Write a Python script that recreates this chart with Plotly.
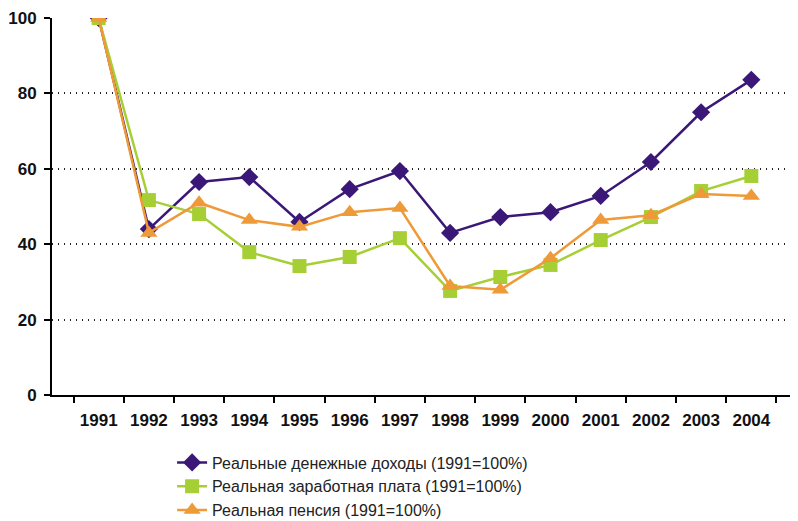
import plotly.graph_objects as go

years = ["1991", "1992", "1993", "1994", "1995", "1996", "1997", "1998", "1999",
         "2000", "2001", "2002", "2003", "2004"]
income = [100, 44.0, 56.5, 57.8, 45.9, 54.6, 59.4, 43.0, 47.2, 48.5, 52.8, 61.8, 75.0, 83.6]
wages = [100, 51.7, 48.0, 37.9, 34.2, 36.6, 41.6, 27.6, 31.3, 34.5, 41.1, 47.2, 54.1, 58.1]
pension = [100, 43.0, 51.0, 46.4, 44.6, 48.5, 49.6, 28.9, 27.9, 36.3, 46.4, 47.7, 53.3, 52.8]

names = ["Реальные денежные доходы (1991=100%)",
         "Реальная заработная плата (1991=100%)",
         "Реальная пенсия (1991=100%)"]
colors = ["#3b1878", "#a6cf35", "#ee9a38"]
symbols = ["diamond", "square", "triangle-up"]
sizes = [14, 14, 15]

fig = go.Figure()
for i, vals in enumerate([income, wages, pension]):
    fig.add_trace(go.Scatter(
        x=years, y=vals, name=names[i], mode="lines+markers",
        line=dict(color=colors[i], width=2.5),
        marker=dict(symbol=symbols[i], size=sizes[i], color=colors[i]),
        legendgroup=f"g{i}",
    ))

tickfont = dict(size=17, color="#111111", family="Liberation Sans, Arial, sans-serif", weight="bold")

# page body has an 8px margin, so the figure is 8px smaller than the window
fig.update_layout(
    width=790, height=513,
    margin=dict(l=44, r=0, t=10, b=126, autoexpand=False),
    plot_bgcolor="white", paper_bgcolor="white",
    font=dict(family="Liberation Sans, Arial, sans-serif", color="#111111"),
    showlegend=True,
    legend=dict(
        x=0.161, y=-0.134, xanchor="left", yanchor="top",
        font=dict(size=16, color="#222222"),
        tracegroupgap=0, bgcolor="rgba(0,0,0,0)",
    ),
)
fig.update_xaxes(
    type="category", showline=True, linecolor="black", linewidth=2,
    ticks="outside", tickson="boundaries", ticklen=6, tickcolor="black", tickwidth=2,
    showgrid=False, automargin=False, ticklabelstandoff=9, tickangle=0,
    tickfont=tickfont,
)
fig.update_yaxes(
    range=[0, 100], tickvals=[0, 20, 40, 60, 80, 100],
    showline=True, linecolor="black", linewidth=2,
    ticks="outside", ticklen=6, tickcolor="black", tickwidth=2,
    showgrid=True, gridcolor="#222222", griddash="1px,5px", gridwidth=1.5,
    zeroline=False, automargin=False, ticklabelstandoff=4,
    tickfont=tickfont,
)
fig.write_html("out.html")
